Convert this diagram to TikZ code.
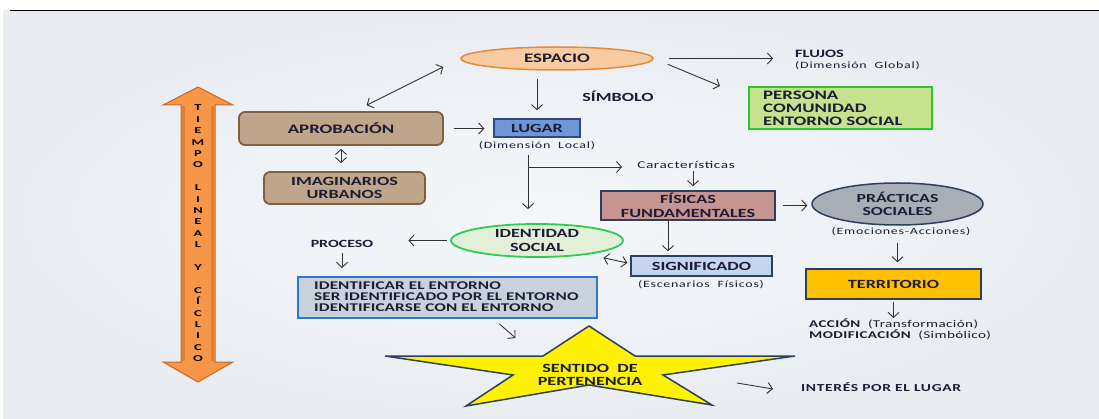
\documentclass[tikz,border=0pt]{standalone}
\usepackage{fontspec}
\setmainfont{Carlito}[FakeStretch=1.45]
\newfontfamily\widefont{Carlito}[FakeStretch=1.6]
\usetikzlibrary{arrows.meta,shapes.geometric,calc}
\definecolor{txt}{HTML}{1C1C36}
\definecolor{arrc}{HTML}{333333}
\definecolor{navy}{HTML}{2F3E5E}
\definecolor{bgin}{HTML}{F5F7FA}
\definecolor{bgout}{HTML}{E9EDF2}
\definecolor{espf}{HTML}{F9CBA0}
\definecolor{espd}{HTML}{E5893C}
\definecolor{tanf}{HTML}{BFA58A}
\definecolor{tand}{HTML}{7F6040}
\definecolor{lugf}{HTML}{6F96D6}
\definecolor{lugd}{HTML}{2E4A7C}
\definecolor{perf}{HTML}{C7E28F}
\definecolor{perd}{HTML}{2DC52D}
\definecolor{fisf}{HTML}{C69491}
\definecolor{pracf}{HTML}{A8AEB5}
\definecolor{terrf}{HTML}{FFC000}
\definecolor{sigf}{HTML}{C6D5EE}
\definecolor{idsf}{HTML}{E3F0D8}
\definecolor{idsd}{HTML}{2ECC55}
\definecolor{identf}{HTML}{C9D1DC}
\definecolor{identd}{HTML}{2E78C9}
\definecolor{orf}{HTML}{F79646}
\definecolor{ord}{HTML}{C46A28}
\definecolor{ormid}{HTML}{DB7A33}
\begin{document}
\begin{tikzpicture}[x=1pt,y=-1pt,
  every node/.style={text=txt, inner sep=0pt},
  arr/.style={draw=arrc, line width=0.9pt, -{Straight Barb[length=5pt,width=11pt]}},
  darr/.style={draw=arrc, line width=0.9pt, {Straight Barb[length=5pt,width=11pt]}-{Straight Barb[length=5pt,width=11pt]}},
  bx/.style={draw=navy, line width=1.5pt},
  fb/.style={font=\bfseries\fontsize{#1}{#1}\selectfont},
  fbl/.style={font=\bfseries\fontsize{#1}{13.5}\selectfont, align=center},
  small/.style={font=\addfontfeature{LetterSpace=8}\fontsize{9.6}{10}\selectfont}
]
\useasboundingbox (0,0) rectangle (1099,419);
% background
\shade[inner color=bgin, outer color=bgout] (3,11) rectangle (1099,419);
\draw[black, line width=1.2pt] (10,10.5) -- (1099,10.5);

% orange double arrow
\draw[fill=orf, draw=ord, line width=1pt, line join=miter]
  (198,87) -- (233,105) -- (215,105) -- (215,362) -- (233,362) -- (198,382)
  -- (163,362) -- (181,362) -- (181,105) -- (163,105) -- cycle;
\draw[ormid, line width=2.5pt, opacity=0.8] (183.5,106) -- (183.5,361) (212.5,106) -- (212.5,361);
\node[align=center, font=\widefont\bfseries\fontsize{9}{11.4}\selectfont, text=black] (tiempo) at (198,233.5)
  {T\\I\\E\\M\\P\\O\\~\\L\\I\\N\\E\\A\\L\\~\\Y\\~\\C\\Í\\C\\L\\I\\C\\O};

% nodes
\node[ellipse, draw=espd, fill=espf, line width=1.5pt, minimum width=192pt, minimum height=23pt, fb=13] (esp) at (557,58.5) {ESPACIO};
\node[rectangle, rounded corners=6pt, draw=tand, fill=tanf, line width=1.8pt, minimum width=204pt, minimum height=33pt, fb=13] (aprob) at (341,128.5) {APROBACIÓN};
\node[rectangle, rounded corners=6pt, draw=tand, fill=tanf, line width=1.8pt, minimum width=161pt, minimum height=32pt, fbl=12.5] (imag) at (344.5,188) {IMAGINARIOS\\URBANOS};
\node[bx, draw=lugd, fill=lugf, minimum width=86pt, minimum height=18pt, fb=12.5] (lugar) at (537,128) {LUGAR};
\node[draw=perd, fill=perf, line width=2pt, minimum width=183pt, minimum height=42pt] (pers) at (840.5,108) {};
\node[anchor=north west, align=left, font=\bfseries\fontsize{13}{12.7}\selectfont] (perstxt) at (763,91) {PERSONA\\COMUNIDAD\\ENTORNO SOCIAL};
\node[bx, fill=fisf, minimum width=174pt, minimum height=29pt, fbl=12.5] (fis) at (688,205.5) {FÍSICAS\\FUNDAMENTALES};
\node[ellipse, bx, fill=pracf, minimum width=171pt, minimum height=42pt, fbl=12.3] (prac) at (897.5,204) {PRÁCTICAS\\SOCIALES};
\node[bx, fill=terrf, minimum width=175pt, minimum height=30pt, fb=12.5] (terr) at (893.5,284) {TERRITORIO};
\node[bx, fill=sigf, minimum width=141pt, minimum height=20pt, fb=12.5] (sig) at (701.5,266) {SIGNIFICADO};
\node[ellipse, draw=idsd, fill=idsf, line width=1.8pt, minimum width=172pt, minimum height=33pt, fbl=12.5] (ids) at (537,240.5) {IDENTIDAD\\SOCIAL};
\node[draw=identd, fill=identf, line width=2pt, minimum width=299pt, minimum height=41pt] (ident) at (447.5,297.5) {};
\node[anchor=north west, align=left, font=\bfseries\addfontfeature{LetterSpace=1}\fontsize{11.8}{11.2}\selectfont] (identtxt) at (314,281.5)
  {IDENTIFICAR EL ENTORNO\\SER IDENTIFICADO POR EL ENTORNO\\IDENTIFICARSE CON EL ENTORNO};

% star
\draw[fill=yellow, draw=navy, line width=1.5pt, line join=miter]
  (589,326) -- (635,356) -- (795,356) -- (663,375) -- (712,405) -- (589,385)
  -- (466,406) -- (513,375) -- (385,356) -- (543,356) -- cycle;
\node[fbl=12.5] (pert) at (590,375) {SENTIDO\ \ DE\\PERTENENCIA};

% text labels
\node[anchor=west, fb=11.3] (flujos) at (795,54) {FLUJOS};
\node[anchor=west, small] (dimg) at (795,65.5) {(Dimensión\ \ Global)};
\node[fb=12.5] (simb) at (618,96) {SÍMBOLO};
\node[small] (diml) at (537,146) {(Dimensión\ \ Local)};
\node[font=\addfontfeature{LetterSpace=6}\fontsize{10.5}{11}\selectfont] (carac) at (686,165) {Características};
\node[small] (emoc) at (901,232) {(Emociones-Acciones)};
\node[small] (escf) at (701,285) {(Escenarios\ \ Físicos)};
\node[anchor=north west, align=left, font=\bfseries\addfontfeature{LetterSpace=4}\fontsize{10.4}{10.5}\selectfont] (accion) at (809,319)
  {ACCIÓN\ \ {\mdseries (Transformación)}\\MODIFICACIÓN\ \ {\mdseries (Simbólico)}};
\node[fb=11] (proceso) at (342,244) {PROCESO};
\node[anchor=west, font=\bfseries\addfontfeature{LetterSpace=6}\fontsize{10.7}{11}\selectfont] (interes) at (801,387) {INTERÉS POR EL LUGAR};

% connectors
\draw[darr, shorten <=13pt, shorten >=19pt] ([xshift=14pt]aprob.north) -- (esp.west);
\draw[arr, shorten <=15pt, shorten >=22pt] (esp.east) -- (esp.east -| flujos.west);
\draw[arr, shorten <=15pt] (esp.east) -- ([xshift=-28pt]pers.north west);
\draw[arr, shorten <=8pt, shorten >=8pt] (lugar.north |- esp.south) -- (lugar.north);
\draw[arr, shorten <=10pt, shorten >=9pt] (aprob.east) -- (aprob.east -| lugar.west);
\draw[darr, shorten <=3pt, shorten >=8pt] (aprob.south) -- (aprob.south |- imag.north);
\draw[arr, shorten <=17pt, shorten >=14pt] ([xshift=-9pt]lugar.south) -- ([xshift=-9pt]lugar.south |- ids.north);
\coordinate (br) at (528,167);
\draw[arr, shorten >=15pt] (br) -- (br -| carac.west);
\draw[arr, shorten <=2pt, shorten >=4pt] ([xshift=5pt]fis.north |- carac.south) -- ([xshift=5pt]fis.north);
\draw[arr, shorten <=7pt, shorten >=4pt] (fis.east) -- (fis.east -| prac.west);
\draw[arr, shorten <=17pt, shorten >=6pt] (prac.south) -- (prac.south |- terr.north);
\draw[arr, shorten <=2pt, shorten >=1pt] (terr.south) -- (terr.south |- accion.north);
\draw[arr, shorten >=4pt] ([xshift=-20pt]fis.south) -- ([xshift=-20pt]fis.south |- sig.north);
\draw[darr] ([xshift=-3pt,yshift=3pt]sig.west) -- ([xshift=5pt,yshift=-5pt]ids.south east);
\draw[arr, shorten <=3pt, shorten >=35pt] (ids.west) -- (ids.west -| proceso.east);
\draw[arr, shorten <=5pt, shorten >=8pt] (proceso.south) -- (proceso.south |- ident.north);
\draw[arr] ([xshift=52pt,yshift=-5pt]ident.south) -- ([xshift=68pt,yshift=-19pt]ident.south);
\draw[arr] ([xshift=-64pt,yshift=4pt]interes.west) -- ([xshift=-28pt,yshift=-2pt]interes.west);
\end{tikzpicture}
\end{document}
